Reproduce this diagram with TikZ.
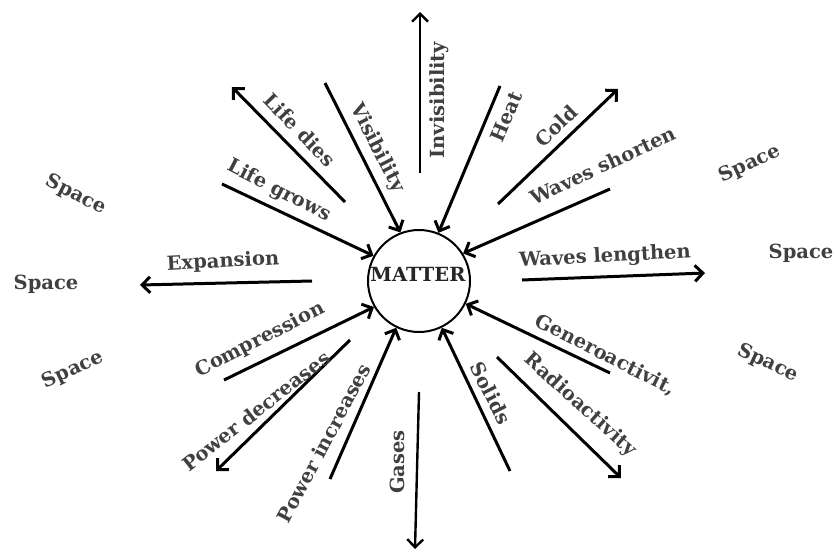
\documentclass[tikz,border=0pt]{standalone}
\usepackage{fontspec}
\newfontfamily\labfont{DejaVu Serif Bold}
\usetikzlibrary{arrows.meta}
\begin{document}
\begin{tikzpicture}[x=1pt,y=-1pt,
  lab/.style={font=\labfont\fontsize{19.5}{21}\selectfont, text=black!75, inner sep=0pt},
  arr/.style={line width=3pt, draw=black, -{Straight Barb[length=8pt,width=16pt]}},
  arrthin/.style={arr, line width=2.4pt}]
\useasboundingbox (0,0) rectangle (836,554);
\fill[white] (0,0) rectangle (836,554);
% centre
\node[circle, draw=black, line width=2pt, minimum size=102pt, inner sep=0pt] (m) at (419,281) {};
\node[lab, text=black!85, font=\labfont\fontsize{19.5}{21}\selectfont] (mt) at (418,274) {MATTER};
% free ends
\coordinate (invA) at (420,173); \coordinate (invB) at (420,12);
\coordinate (visA) at (325,83);
\coordinate (ldA) at (345,202); \coordinate (ldB) at (232,87);
\coordinate (lgA) at (222,184);
\coordinate (heA) at (500,86);
\coordinate (coA) at (498,204); \coordinate (coB) at (618,89);
\coordinate (wsA) at (610,189);
\coordinate (wlA) at (522,280); \coordinate (wlB) at (705,273);
\coordinate (geA) at (610,373);
\coordinate (raA) at (497,357); \coordinate (raB) at (621,478);
\coordinate (soA) at (510,471);
\coordinate (gaA) at (419,392); \coordinate (gaB) at (415,549);
\coordinate (piA) at (330,479);
\coordinate (pdA) at (350,340); \coordinate (pdB) at (216,471);
\coordinate (cmA) at (224,380);
\coordinate (exA) at (312,281); \coordinate (exB) at (140,285);
% connectors
\draw[arrthin] (invA) -- (invB);
\draw[arr] (visA) -- (m.111);
\draw[arr] (ldA) -- (ldB);
\draw[arr] (lgA) -- (m.151);
\draw[arr] (heA) -- (m.68);
\draw[arr] (coA) -- (coB);
\draw[arr] (wsA) -- (m.32);
\draw[arr] (wlA) -- (wlB);
\draw[arr] (geA) -- (m.334);
\draw[arr] (raA) -- (raB);
\draw[arr] (soA) -- (m.296);
\draw[arrthin] (gaA) -- (gaB);
\draw[arr] (piA) -- (m.244);
\draw[arr] (pdA) -- (pdB);
\draw[arr] (cmA) -- (m.210);
\draw[arr] (exA) -- (exB);
% labels
\node[lab, rotate=90] (tinv) at (439,100) {Invisibility};
\node[lab, rotate=-63] (tvis) at (377,148) {Visibility};
\node[lab, rotate=-46] (tld) at (300,130) {Life dies};
\node[lab, rotate=-27] (tlg) at (279,191) {Life grows};
\node[lab, rotate=67] (the) at (506,117) {Heat};
\node[lab, rotate=44] (tco) at (556,126) {Cold};
\node[lab, rotate=25] (tws) at (603,165) {Waves shorten};
\node[lab, rotate=3] (twl) at (605,257) {Waves lengthen};
\node[lab, rotate=3] (tex) at (223,262) {Expansion};
\node[lab, rotate=27] (tcm) at (260,340) {Compression};
\node[lab, rotate=38] (tpd) at (256,411) {Power decreases};
\node[lab, rotate=62] (tpi) at (324,443) {Power increases};
\node[lab, rotate=90] (tga) at (397,462) {Gases};
\node[lab, rotate=-63] (tso) at (491,393) {Solids};
\node[lab, rotate=-42] (tra) at (580,405) {Radioactivity};
\node[lab, rotate=-27] (tge) at (605,355) {Generoactivit,};
\node[lab, rotate=-27] (sp1) at (76,195) {Space};
\node[lab] (sp2) at (46,284) {Space};
\node[lab, rotate=25] (sp3) at (73,370) {Space};
\node[lab, rotate=25] (sp4) at (750,164) {Space};
\node[lab] (sp5) at (801,253) {Space};
\node[lab, rotate=-25] (sp6) at (768,363) {Space};
\end{tikzpicture}
\end{document}
